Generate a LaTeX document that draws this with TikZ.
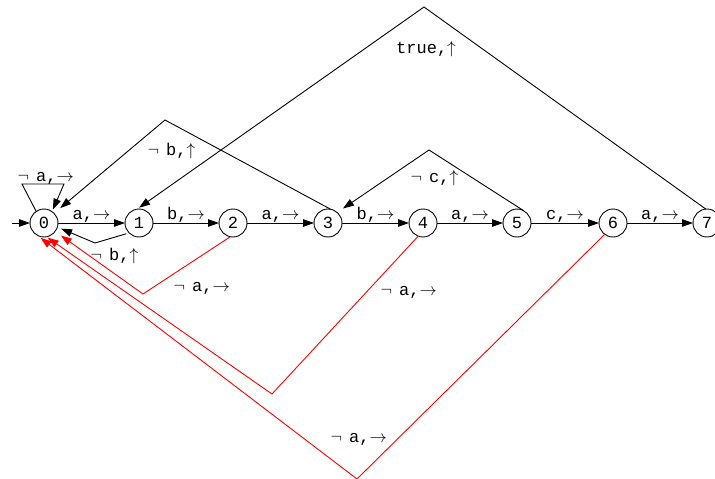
\documentclass[tikz,border=0pt]{standalone}
\usepackage{fontspec}
\newfontfamily\monofam{Liberation Mono}
\usetikzlibrary{arrows.meta}
\newcommand\negsp{$\neg$\hspace{7pt}}
\begin{document}
\begin{tikzpicture}[x=1pt,y=-1pt,
  state/.style={circle,draw,line width=0.9pt,minimum size=28pt,inner sep=0pt,outer sep=0pt,
    font=\monofam\fontsize{17}{20}\selectfont},
  edge/.style={line width=0.9pt,-{Triangle[length=11pt,width=7.5pt]}},
  redge/.style={edge,red},
  lbl/.style={inner sep=0pt,anchor=base west,font=\monofam\fontsize{17}{20}\selectfont},
  flbl/.style={midway,inner sep=0pt,anchor=base,yshift=4pt,font=\monofam\fontsize{17}{20}\selectfont}]
\useasboundingbox (0,0) rectangle (715,479);
\node[state] (n0) at (44,223) {0};
\node[state] (n1) at (139,223) {1};
\node[state] (n2) at (233,223) {2};
\node[state] (n3) at (328,223) {3};
\node[state] (n4) at (423,223) {4};
\node[state] (n5) at (517,223) {5};
\node[state] (n6) at (613,223) {6};
\node[state] (n7) at (707,223) {7};
\coordinate (init) at (12,223);
\coordinate (lpa) at (22,184);
\coordinate (lpb) at (64,184);
\coordinate (c10) at (95,243);
\coordinate (c30) at (165,120);
\coordinate (c53) at (429,150);
\coordinate (c71) at (424,7);
\coordinate (c20) at (143,294);
\coordinate (c40) at (272,394);
\coordinate (c60) at (357,479);
% initial
\draw[edge] (init) -- (n0.west);
% self loop
\draw[edge,shorten >=2pt] (n0.124) -- (lpa) -- (lpb) -- (n0.55);
\node[lbl] (l00) at (17.5,181) {\negsp a,$\rightarrow$};
% forward edges
\draw[edge] (n0) -- node[flbl] (l01) {a,$\rightarrow$} (n1);
\draw[edge] (n1) -- node[flbl] (l12) {b,$\rightarrow$} (n2);
\draw[edge] (n2) -- node[flbl] (l23) {a,$\rightarrow$} (n3);
\draw[edge] (n3) -- node[flbl] (l34) {b,$\rightarrow$} (n4);
\draw[edge] (n4) -- node[flbl] (l45) {a,$\rightarrow$} (n5);
\draw[edge] (n5) -- node[flbl] (l56) {c,$\rightarrow$} (n6);
\draw[edge] (n6) -- node[flbl] (l67) {a,$\rightarrow$} (n7);
% back edges
\draw[edge,shorten <=3pt,shorten >=4pt] (n1.225) -- (c10) -- (n0.-17);
\node[lbl] (l10) at (90.5,260) {\negsp b,$\uparrow$};
\draw[edge,shorten >=8pt] (n3.79) -- (c30) -- (n0.44);
\node[lbl] (l30) at (147.5,155) {\negsp b,$\uparrow$};
\draw[edge,shorten >=7pt] (n5.62) -- (c53) -- (n3.49);
\node[lbl] (l53) at (410.5,182) {\negsp c,$\uparrow$};
\draw[edge,shorten >=2.5pt] (n7.95) -- (c71) -- (n1.98);
\node[lbl] (l71) at (396,53) {true,$\uparrow$};
% red edges
\draw[redge,shorten >=7pt] (n2.259) -- (c20) -- (n0.-37);
\node[lbl] (l20) at (173.5,291) {\negsp a,$\rightarrow$};
\draw[redge,shorten >=1.5pt] (n4.250) -- (c40) -- (n0.-80);
\node[lbl] (l40) at (380.5,295) {\negsp a,$\rightarrow$};
\draw[redge,shorten >=4.5pt] (n6.234) -- (c60) -- (n0.-120);
\node[lbl] (l60) at (330.5,442) {\negsp a,$\rightarrow$};
\end{tikzpicture}
\end{document}
